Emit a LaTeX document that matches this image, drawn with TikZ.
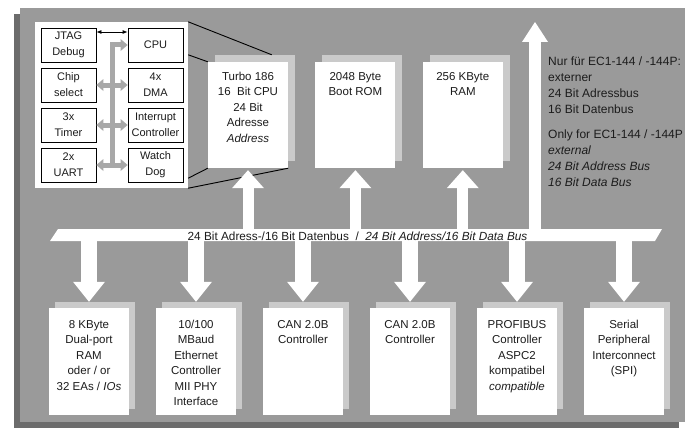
\documentclass[tikz,border=0pt]{standalone}
\usepackage{fontspec}
\setmainfont{Liberation Sans}
\usepackage{tikz}
\usetikzlibrary{positioning,arrows.meta,shadows,calc}
\definecolor{PanelGrey}{HTML}{9A9A9A}
\definecolor{PanelShade}{HTML}{6C6C6C}
\definecolor{BoxShade}{HTML}{CACACA}
\definecolor{InnerBus}{HTML}{A8A8A8}
\definecolor{InkGrey}{HTML}{1C1C1C}

\begin{document}
\begin{tikzpicture}[x=1pt, y=-1pt,
    unitbox/.style={fill=white, minimum width=80pt, inner sep=0pt},
    topunit/.style={unitbox, minimum height=106pt,
      copy shadow={shadow xshift=7pt, shadow yshift=7pt, fill=BoxShade, draw=none}},
    lowunit/.style={unitbox, minimum height=107pt,
      copy shadow={shadow xshift=6pt, shadow yshift=6pt, fill=BoxShade, draw=none}},
    unittext/.style={align=center, inner sep=0pt, text=InkGrey,
      font=\fontsize{11.5}{15.5}\selectfont},
    ibox/.style={draw=black, fill=white, line width=0.8pt, minimum width=55pt,
      minimum height=34pt, inner sep=0pt, align=center, text=InkGrey,
      font=\fontsize{11}{16}\selectfont},
    ibus/.style={InnerBus, line width=5pt, line join=miter},
    ibusboth/.style={ibus, {Triangle[width=12pt, length=7pt, line width=0pt]}-{Triangle[width=12pt, length=7pt, line width=0pt]}},
    ibusend/.style={ibus, -{Triangle[width=12pt, length=7pt, line width=0pt]}},
    zoomline/.style={black, line width=0.9pt},
    busup/.style={white, line width=11pt, -{Triangle[width=32pt, length=18pt, line width=0pt]}},
    busdown/.style={white, line width=16pt, -{Triangle[width=32pt, length=20pt, line width=0pt]}},
    extup/.style={white, line width=12pt, -{Triangle[width=26pt, length=20pt, line width=0pt]}}
  ]
  \useasboundingbox (0,0) rectangle (692,428);
  \fill[white] (0,0) rectangle (692,428);
  \fill[PanelShade] (14,14) rectangle (679,428);
  \fill[PanelGrey] (20,8) rectangle (685,422);

  % CPU core detail
  \node[fill=white, minimum width=153pt, minimum height=166pt, inner sep=0pt] (inset) at (111.5,105) {};
  \node[ibox] (jtag) at (68.5,45) {JTAG\\Debug};
  \node[ibox] (cpu) at (155.5,45) {CPU};
  \node[ibox] (chip) at (68.5,85) {Chip\\select};
  \node[ibox] (dma) at (155.5,85) {4x\\DMA};
  \node[ibox] (timer) at (68.5,125) {3x\\Timer};
  \node[ibox] (irq) at (155.5,125) {Interrupt\\Controller};
  \node[ibox] (uart) at (68.5,165) {2x\\UART};
  \node[ibox] (dog) at (155.5,165) {Watch\\Dog};

  \draw[ibusend] ($(uart.east)!0.5!(dog.west)$) |- (cpu.west);
  \foreach \a/\b in {chip/dma, timer/irq, uart/dog}
    \draw[ibusboth] (\a) -- (\b);
  \draw[line width=0.8pt, {Latex[length=5pt, width=4pt]}-{Latex[length=5pt, width=4pt]}]
    ([yshift=13pt]jtag.east) -- ([yshift=13pt]cpu.west);

  % top units
  \node[topunit] (turbo) at (248,115) {};
  \node[topunit, right=27pt of turbo] (bootrom) {};
  \node[topunit, right=27pt of bootrom] (ram) {};

  \draw[zoomline] (inset.north east) -- ([xshift=64pt, yshift=7pt]turbo.north west);
  \draw[zoomline] ([yshift=-33pt]inset.north east) -- (turbo.north west);
  \draw[zoomline] ([yshift=10pt]inset.south east) -- (turbo.south west);
  \draw[zoomline] (inset.south east) -- (turbo.south east);

  \node[unittext, below=10pt of turbo.north] (turbotext)
    {Turbo 186\\16~ Bit CPU\\24 Bit\\Adresse\\\textit{Address}};
  \node[unittext, below=10pt of bootrom.north] (bootromtext) {2048 Byte\\Boot ROM};
  \node[unittext, below=10pt of ram.north] (ramtext) {256 KByte\\RAM};

  % bottom units
  \node[lowunit] (dpram) at (89,361.5) {};
  \node[lowunit, right=26.6pt of dpram] (eth) {};
  \node[lowunit, right=26.6pt of eth] (cana) {};
  \node[lowunit, right=26.6pt of cana] (canb) {};
  \node[lowunit, right=26.6pt of canb] (profi) {};
  \node[lowunit, right=26.6pt of profi] (spi) {};

  \node[unittext, below=12pt of dpram.north] (dpramtext)
    {8 KByte\\Dual-port\\RAM\\oder / or\\32 EAs / \textit{IOs}};
  \node[unittext, below=12pt of eth.north] (ethtext)
    {10/100\\MBaud\\Ethernet\\Controller\\MII PHY\\Interface};
  \node[unittext, below=12pt of cana.north] (canatext) {CAN 2.0B\\Controller};
  \node[unittext, below=12pt of canb.north] (canbtext) {CAN 2.0B\\Controller};
  \node[unittext, below=12pt of profi.north] (profitext)
    {PROFIBUS\\Controller\\ASPC2\\kompatibel\\\textit{compatible}};
  \node[unittext, below=12pt of spi.north] (spitext)
    {Serial\\Peripheral\\Interconnect\\(SPI)};

  % system bus
  \coordinate (busN) at (0,231);
  \coordinate (busS) at (0,239);
  \coordinate (extbus) at (535,22);
  \foreach \n in {turbo, bootrom, ram}
    \draw[busup] (\n.south |- busN) -- ([yshift=-2pt]\n.south);
  \foreach \n in {dpram, eth, cana, canb, profi, spi}
    \draw[busdown] (\n.north |- busS) -- ([yshift=6pt]\n.north);
  \draw[extup] (extbus |- busN) -- (extbus);
  \fill[white] (58,229) -- (662,229) -- (655,241) -- (50,241) -- cycle;
  \node[anchor=base, inner sep=0pt, text=InkGrey, font=\fontsize{11.8}{13}\selectfont] (buslabel) at (357.5,240.5)
    {24 Bit Adress-/16 Bit Datenbus\ \ /\ \ \textit{24 Bit Address/16 Bit Data Bus}};

  \node[anchor=north west, align=left, inner sep=0pt, text=InkGrey,
        font=\fontsize{12}{16}\selectfont] (extnote) at (548,57)
    {Nur für EC1-144 / -144P:\\externer\\24 Bit Adressbus\\16 Bit Datenbus\\[9pt]
     Only for EC1-144 / -144P\\\textit{external}\\\textit{24 Bit Address Bus}\\\textit{16 Bit Data Bus}};
\end{tikzpicture}
\end{document}
